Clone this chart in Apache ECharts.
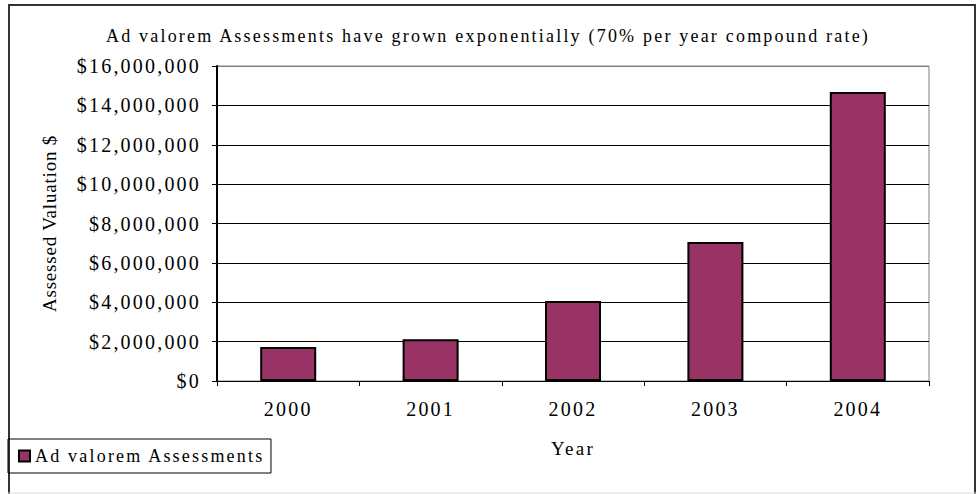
<!DOCTYPE html>
<html>
<head>
<meta charset="utf-8">
<script src="https://cdn.jsdelivr.net/npm/echarts@6/dist/echarts.min.js"></script>
<style>
  html, body { margin:0; padding:0; background:#fff; }
  #chart { width:976px; height:494px; }
  #chart text { letter-spacing: 2.2px; }
  /* the rotated y axis name is tighter in the original */
  #chart text[transform^="matrix(0"] { letter-spacing: 0.8px; }
</style>
</head>
<body>
<div id="chart"></div>
<script>
const titleText = 'Ad valorem Assessments have grown exponentially (70% per year compound rate)';
const seriesName = 'Ad valorem Assessments';
const years = ['2000', '2001', '2002', '2003', '2004'];
const assessments = [1730000, 2120000, 4060000, 7060000, 14680000];
const yMax = 16000000;
const yStep = 2000000;

const font = 'Liberation Serif';
const el = document.getElementById('chart');
const chart = echarts.init(el, null, { renderer:'svg' });

// money labels like $16,000,000
const money = v => '$' + String(v).replace(/\B(?=(\d{3})+(?!\d))/g, ',');

chart.setOption({
  backgroundColor: '#fff',
  animation: false,
  title: {
    text: titleText, left:'center', top:22,
    textStyle:{ fontFamily:font, fontSize:18, fontWeight:'normal', color:'#000' }
  },
  legend: {
    left:8, top:439, orient:'horizontal',
    padding:[8, 54, 8, 10],
    borderColor:'#000', borderWidth:1,
    icon:'rect', itemWidth:11, itemHeight:11, itemGap:6,
    textStyle:{ fontFamily:font, fontSize:18, color:'#000' },
    data:[seriesName]
  },
  grid: {
    left:217, right:47, top:66, bottom:113,
    show:true, borderColor:'#808080', borderWidth:1, backgroundColor:'#fff'
  },
  graphic: [
    { type:'polyline', silent:true, z:-1,
      shape:{ points:[[9,494],[9,5],[975,5],[975,494]] },
      style:{ stroke:'#333', lineWidth:2, fill:null } },
    { type:'line', silent:true, z:-1,
      shape:{ x1:8, y1:493, x2:976, y2:493 },
      style:{ stroke:'#ddd', lineWidth:1 } }
  ],
  xAxis: {
    type:'category', data:years, boundaryGap:true,
    name:'Year', nameLocation:'middle', nameGap:58,
    nameTextStyle:{ fontFamily:font, fontSize:19, color:'#000' },
    axisLine:{ lineStyle:{ color:'#000', width:1 } },
    axisTick:{ show:true, length:5, lineStyle:{ color:'#000' } },
    axisLabel:{ fontFamily:font, fontSize:20, color:'#000', margin:18 },
    splitLine:{ show:false }
  },
  yAxis: {
    type:'value', min:0, max:yMax, interval:yStep,
    name:'Assessed Valuation $', nameLocation:'middle', nameGap:158,
    nameTextStyle:{ fontFamily:font, fontSize:19, color:'#000' },
    axisLine:{ show:true, lineStyle:{ color:'#000', width:2 } },
    axisTick:{ show:true, length:5, lineStyle:{ color:'#000' } },
    axisLabel:{ fontFamily:font, fontSize:20, color:'#000', margin:16, formatter:money },
    splitLine:{ show:true, lineStyle:{ width:1,
      color:['#000','#000','#000','#000','#000','#000','#000','#000','#808080'] } }
  },
  series: [{
    type:'bar', name:seriesName, data:assessments, barWidth:56,
    itemStyle:{ color:'#993366', borderColor:'#000', borderWidth:2 }
  }]
});
</script>
</body>
</html>
